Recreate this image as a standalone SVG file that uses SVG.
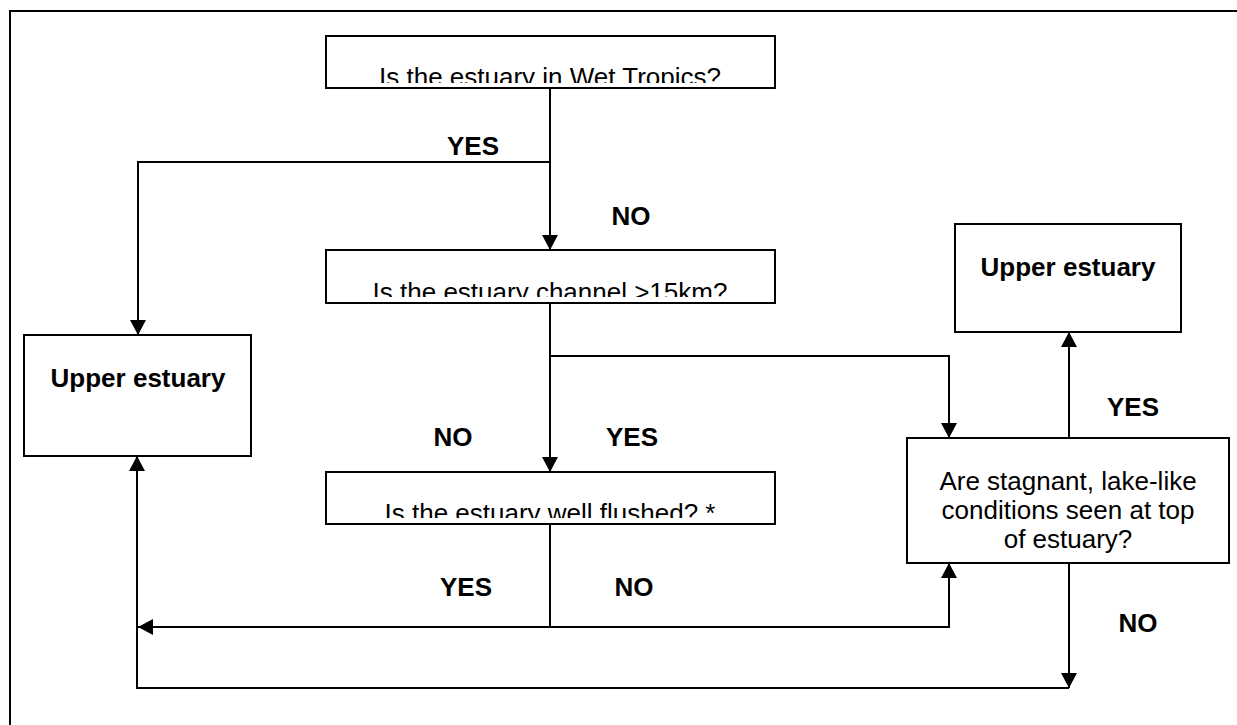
<svg xmlns="http://www.w3.org/2000/svg" width="1237" height="725" viewBox="0 0 1237 725">
  <style>
    .box { fill: #fff; stroke: #000; stroke-width: 2; }
    .line { fill: none; stroke: #000; stroke-width: 2; }
    .q { font-family: "Liberation Sans", Arial, sans-serif; font-size: 26px; fill: #000; text-anchor: middle; }
    .b { font-family: "Liberation Sans", Arial, sans-serif; font-size: 26px; font-weight: bold; fill: #000; text-anchor: middle; }
  </style>
  <defs>
    <marker id="arrow" viewBox="0 0 15 16" refX="15" refY="8" markerWidth="15" markerHeight="16" markerUnits="userSpaceOnUse" orient="auto">
      <path d="M0,0 L15,8 L0,16 Z" fill="#000"/>
    </marker>
    <clipPath id="clipQ1"><rect x="327" y="37" width="447" height="46"/></clipPath>
    <clipPath id="clipQ2"><rect x="327" y="251" width="447" height="46"/></clipPath>
    <clipPath id="clipQ3"><rect x="327" y="473" width="447" height="45"/></clipPath>
  </defs>

  <rect width="1237" height="725" fill="#fff"/>
  <!-- page frame -->
  <path d="M10,725 V11 H1237" class="line"/>

  <g id="connectors">
    <path d="M550,88 V250" class="line" marker-end="url(#arrow)"/>
    <path d="M550,162 H138 V335" class="line" marker-end="url(#arrow)"/>
    <path d="M550,303 V472" class="line" marker-end="url(#arrow)"/>
    <path d="M550,356 H949 V438" class="line" marker-end="url(#arrow)"/>
    <path d="M550,524 V627 H138" class="line" marker-end="url(#arrow)"/>
    <path d="M550,627 H949 V563" class="line" marker-end="url(#arrow)"/>
    <path d="M1069,563 V688" class="line" marker-end="url(#arrow)"/>
    <path d="M1069,688 H137 V456" class="line" marker-end="url(#arrow)"/>
    <path d="M1069,438 V332" class="line" marker-end="url(#arrow)"/>
  </g>

  <g id="labels">
    <text x="473" y="155" class="b">YES</text>
    <text x="631" y="225" class="b">NO</text>
    <text x="453" y="446" class="b">NO</text>
    <text x="632" y="446" class="b">YES</text>
    <text x="466" y="596" class="b">YES</text>
    <text x="634" y="596" class="b">NO</text>
    <text x="1133" y="416" class="b">YES</text>
    <text x="1138" y="632" class="b">NO</text>
  </g>

  <g id="q-wet-tropics">
    <rect x="326" y="36" width="449" height="52" class="box"/>
    <text x="550" y="86" class="q" clip-path="url(#clipQ1)">Is the estuary in Wet Tropics?</text>
  </g>
  <g id="q-channel">
    <rect x="326" y="250" width="449" height="53" class="box"/>
    <text x="550" y="301" class="q" clip-path="url(#clipQ2)">Is the estuary channel &gt;15km?</text>
  </g>
  <g id="q-flushed">
    <rect x="326" y="472" width="449" height="52" class="box"/>
    <text x="550" y="522" class="q" clip-path="url(#clipQ3)">Is the estuary well flushed? *</text>
  </g>
  <g id="upper-left">
    <rect x="24" y="335" width="227" height="121" class="box"/>
    <text x="138" y="387" class="b">Upper estuary</text>
  </g>
  <g id="q-stagnant">
    <rect x="907" y="438" width="322" height="125" class="box"/>
    <text x="1068" y="490" class="q">Are stagnant, lake-like</text>
    <text x="1068" y="519" class="q">conditions seen at top</text>
    <text x="1068" y="548" class="q">of estuary?</text>
  </g>
  <g id="upper-right">
    <rect x="955" y="224" width="226" height="108" class="box"/>
    <text x="1068" y="276" class="b">Upper estuary</text>
  </g>
</svg>
